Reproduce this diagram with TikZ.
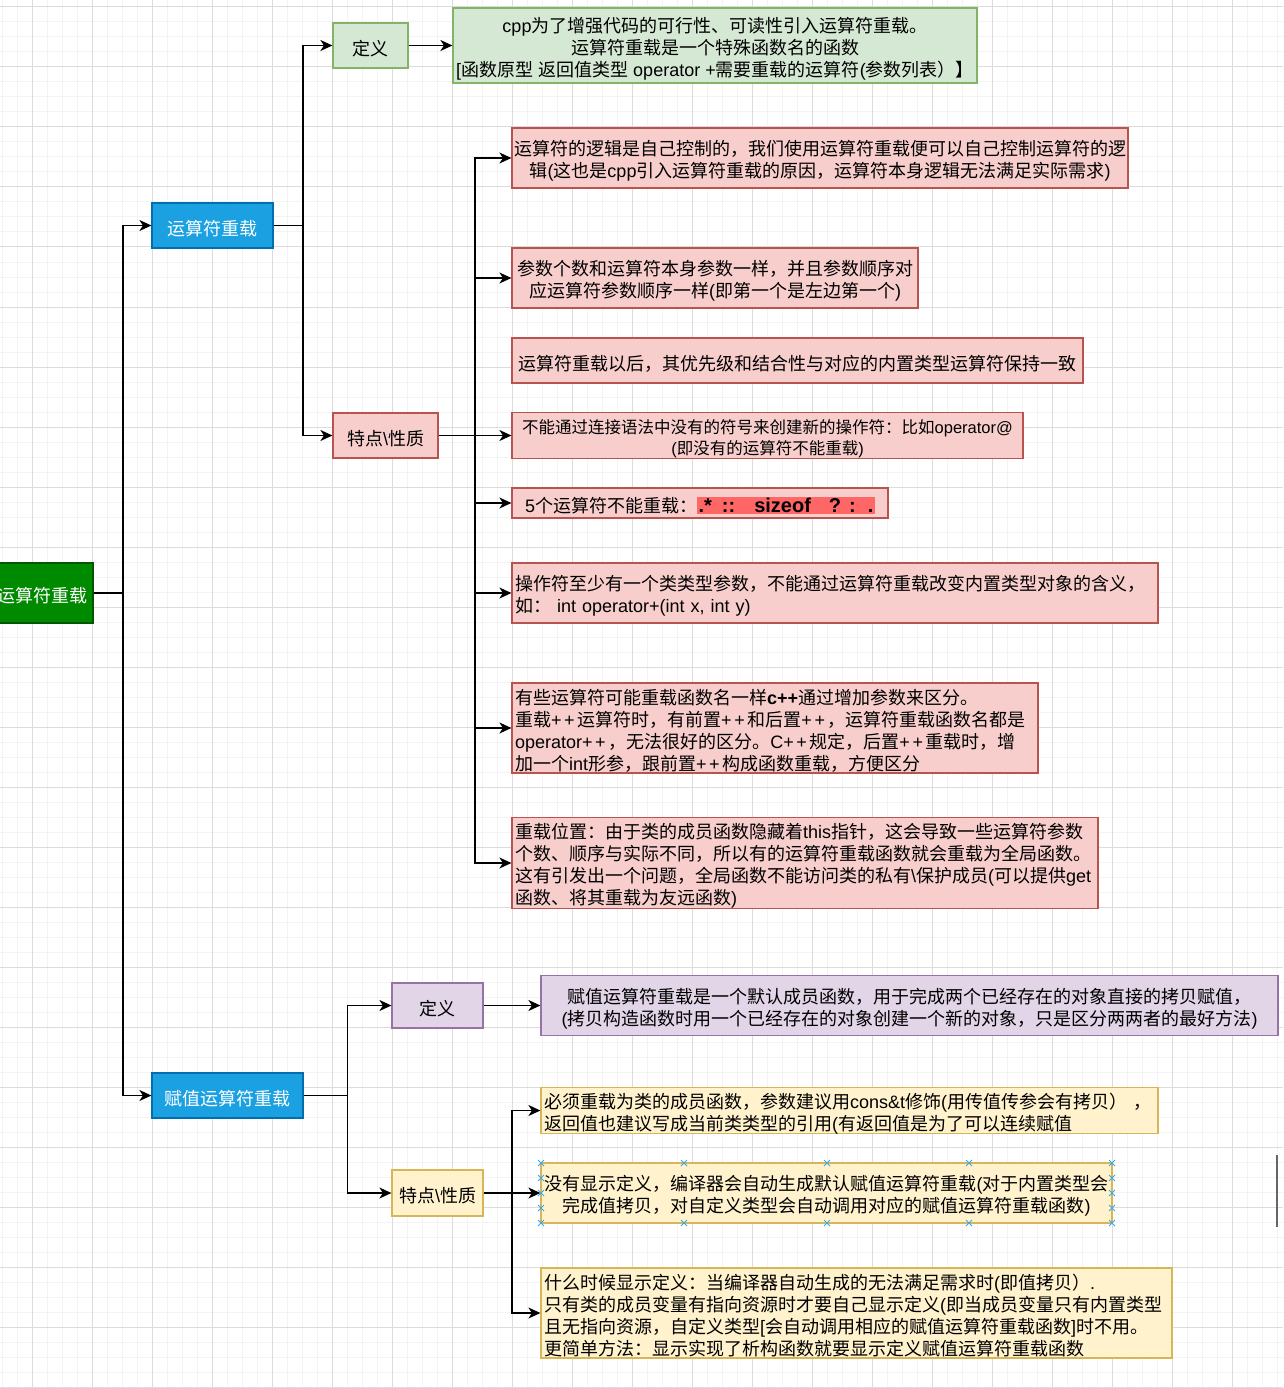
\documentclass[tikz,border=0pt]{standalone}
\usepackage{fontspec}
\usetikzlibrary{arrows.meta}
\setmainfont{Liberation Sans}
\newfontfamily\cjkfont{Noto Sans CJK SC}
\newfontfamily\latinfont{Liberation Sans}
\XeTeXinterchartokenstate=1
\newXeTeXintercharclass\mycjkclass
\makeatletter
\count@="2E80
\loop
  \XeTeXcharclass\count@=\mycjkclass
  \advance\count@ by 1
\ifnum\count@<"A000 \repeat
\count@="FF00
\loop
  \XeTeXcharclass\count@=\mycjkclass
  \advance\count@ by 1
\ifnum\count@<"FFF0 \repeat
\makeatother
\XeTeXinterchartoks 0 \mycjkclass={\cjkfont}
\XeTeXinterchartoks 4095 \mycjkclass={\cjkfont}
\XeTeXinterchartoks \mycjkclass 0={\latinfont}
\XeTeXinterchartoks \mycjkclass 4095={\latinfont}

\newcommand\topfix{\rule{0pt}{21pt}}
\newcommand\pl{+\kern2.6pt}

\definecolor{gfill}{HTML}{D5E8D4}\definecolor{gdraw}{HTML}{82B366}
\definecolor{pfill}{HTML}{F8CECC}\definecolor{pdraw}{HTML}{B85450}
\definecolor{bfill}{HTML}{1BA1E2}\definecolor{bdraw}{HTML}{006EAF}
\definecolor{rfill}{HTML}{008A00}\definecolor{rdraw}{HTML}{005700}
\definecolor{vfill}{HTML}{E1D5E7}\definecolor{vdraw}{HTML}{9673A6}
\definecolor{yfill}{HTML}{FFF2CC}\definecolor{ydraw}{HTML}{D6B656}
\definecolor{hl}{HTML}{FF6666}
\definecolor{minorg}{HTML}{F3F3F3}\definecolor{majorg}{HTML}{DCDCDC}
\definecolor{selblue}{HTML}{3AA8E8}

\tikzset{
  box/.style={draw, rectangle, line width=1.2pt, inner sep=0pt, text=black,
    font=\fontsize{18}{22}\selectfont, align=center},
  lbox/.style={box, inner xsep=3pt, align=left},
  rootbox/.style={box, fill=rfill, draw=rdraw, text=white},
  bluebox/.style={box, fill=bfill, draw=bdraw, text=white},
  greenbox/.style={box, fill=gfill, draw=gdraw},
  pinkbox/.style={box, fill=pfill, draw=pdraw},
  purplebox/.style={box, fill=vfill, draw=vdraw},
  yellowbox/.style={box, fill=yfill, draw=ydraw},
  plainline/.style={draw=black, line width=1.5pt},
  arr/.style={plainline, -{Stealth[length=12pt,width=11pt,inset=3.5pt]}},
  minorline/.style={draw=minorg, line width=1pt},
  majorline/.style={draw=majorg, line width=1pt},
  selx/.style={draw=selblue, line width=1pt}
}

\begin{document}
\begin{tikzpicture}[x=1pt,y=-1pt]
\useasboundingbox (0,0) rectangle (1283,1388);
\fill[white] (0,0) rectangle (1283,1388);
% grid
\foreach \x in {2,17,...,1282} \draw[minorline] (\x,0) -- (\x,1388);
\foreach \y in {7,22,...,1387} \draw[minorline] (0,\y) -- (1283,\y);
\foreach \x in {32,92,...,1272} \draw[majorline] (\x,0) -- (\x,1388);
\foreach \y in {7,67,...,1387} \draw[majorline] (0,\y) -- (1283,\y);

% nodes
\node[rootbox, minimum height=60pt, text width=133pt, inner xsep=5pt, align=right] (root) at (21.5,593) {\topfix 运算符重载};
\node[bluebox, minimum width=121pt, minimum height=45pt] (b1) at (212.5,225.5) {\topfix 运算符重载};
\node[bluebox, minimum width=151pt, minimum height=45pt] (b2) at (227.5,1095.5) {\topfix 赋值运算符重载};

\node[greenbox, minimum width=75pt, minimum height=45pt] (d1) at (370.5,45.5) {\topfix 定义};
\node[greenbox, minimum width=524pt, minimum height=75pt] (dt1) at (715,45.5)
 {\topfix cpp为了增强代码的可行性、可读性引入运算符重载。\\运算符重载是一个特殊函数名的函数\\{}[函数原型 返回值类型 operator +需要重载的运算符(参数列表）】};

\node[pinkbox, minimum width=105pt, minimum height=45pt] (t1) at (385.5,435.5) {\topfix 特点\textbackslash 性质};

\node[pinkbox, minimum width=616pt, minimum height=60pt] (P1) at (820,158)
 {\topfix 运算符的逻辑是自己控制的，我们使用运算符重载便可以自己控制运算符的逻\\辑(这也是cpp引入运算符重载的原因，运算符本身逻辑无法满足实际需求)};
\node[pinkbox, minimum width=406pt, minimum height=60pt] (P2) at (715,278)
 {\topfix 参数个数和运算符本身参数一样，并且参数顺序对\\应运算符参数顺序一样(即第一个是左边第一个)};
\node[pinkbox, minimum width=571pt, minimum height=45pt] (P3) at (797.5,360.5)
 {\topfix 运算符重载以后，其优先级和结合性与对应的内置类型运算符保持一致};
\node[pinkbox, minimum width=511pt, minimum height=45pt, font=\fontsize{16.5}{21}\selectfont] (P4) at (767.5,435.5)
 {\topfix 不能通过连接语法中没有的符号来创建新的操作符：比如operator@\\(即没有的运算符不能重载)};
\node[pinkbox, minimum width=376pt, minimum height=30pt] (P5) at (700,503)
 {\topfix 5个运算符不能重载：{\setlength{\fboxsep}{1.5pt}\colorbox{hl}{\fontsize{20}{22}\selectfont\bfseries .*\hspace{10pt}::\hspace{19pt}sizeof\hspace{18pt}?\hspace{8pt}:\hspace{12pt}.}}};
\node[pinkbox, lbox, minimum height=60pt, text width=640pt] (P6) at (835,593)
 {\topfix 操作符至少有一个类类型参数，不能通过运算符重载改变内置类型对象的含义，\\如：\ int operator+(int x, int y)};
\node[pinkbox, lbox, minimum height=90pt, text width=520pt] (P7) at (775,728)
 {\topfix 有些运算符可能重载函数名一样{\bfseries c++}通过增加参数来区分。\\重载\pl\pl 运算符时，有前置\pl\pl 和后置\pl\pl ，运算符重载函数名都是\\operator\pl\pl ，无法很好的区分。C\pl\pl 规定，后置\pl\pl 重载时，增\\加一个int形参，跟前置\pl\pl 构成函数重载，方便区分};
\node[pinkbox, lbox, minimum height=90pt, text width=580pt] (P8) at (805,863)
 {\topfix 重载位置：由于类的成员函数隐藏着this指针，这会导致一些运算符参数\\个数、顺序与实际不同，所以有的运算符重载函数就会重载为全局函数。\\这有引发出一个问题，全局函数不能访问类的私有\textbackslash 保护成员(可以提供get\\函数、将其重载为友远函数)};

\node[purplebox, minimum width=91pt, minimum height=45pt] (d2) at (437.5,1005.5) {\topfix 定义};
\node[purplebox, minimum width=737pt, minimum height=60pt] (dt2) at (909.5,1005.5)
 {\topfix 赋值运算符重载是一个默认成员函数，用于完成两个已经存在的对象直接的拷贝赋值，\\(拷贝构造函数时用一个已经存在的对象创建一个新的对象，只是区分两两者的最好方法)};
\node[yellowbox, minimum width=91pt, minimum height=46pt] (t2) at (437.5,1193) {\topfix 特点\textbackslash 性质};

\node[yellowbox, lbox, minimum height=45pt, text width=611pt] (Y1) at (849.5,1110.5)
 {\topfix 必须重载为类的成员函数，参数建议用cons\&t修饰(用传值传参会有拷贝）\ ，\\返回值也建议写成当前类类型的引用(有返回值是为了可以连续赋值};
\node[yellowbox, minimum width=571pt, minimum height=60pt] (Y2) at (826.5,1193)
 {\topfix 没有显示定义，编译器会自动生成默认赋值运算符重载(对于内置类型会\\完成值拷贝，对自定义类型会自动调用对应的赋值运算符重载函数)};
\node[yellowbox, lbox, minimum height=90pt, text width=625pt] (Y3) at (856.5,1313)
 {\topfix 什么时候显示定义：当编译器自动生成的无法满足需求时(即值拷贝）.\\只有类的成员变量有指向资源时才要自己显示定义(即当成员变量只有内置类型\\且无指向资源，自定义类型[会自动调用相应的赋值运算符重载函数]时不用。\\更简单方法：显示实现了析构函数就要显示定义赋值运算符重载函数};

% connectors
\coordinate (j0) at (123,593);
\draw[plainline] (root.east) -- (j0);
\draw[arr] (j0) |- (b1.west);
\draw[arr] (j0) |- (b2.west);

\coordinate (j1) at (303,225.5);
\draw[plainline] (b1.east) -- (j1);
\draw[arr] (j1) |- (d1.west);
\draw[arr] (j1) |- (t1.west);
\draw[arr] (d1.east) -- (dt1.west);

\coordinate (j2) at (475,435.5);
\draw[arr] (t1.east) -- (P4.west);
\foreach \n in {P1,P2,P5,P6,P7,P8} \draw[arr] (j2) |- (\n.west);

\coordinate (j3) at (347.5,1095.5);
\draw[plainline] (b2.east) -- (j3);
\draw[arr] (j3) |- (d2.west);
\draw[arr] (j3) |- (t2.west);
\draw[arr] (d2.east) -- (dt2.west);

\coordinate (j4) at (512,1193);
\draw[arr] (t2.east) -- (Y2.west);
\draw[arr] (j4) |- (Y1.west);
\draw[arr] (j4) |- (Y3.west);

% selection marks on Y2
\foreach \x/\y in {541/1163,684/1163,827/1163,969/1163,1112/1163,
                   541/1223,684/1223,827/1223,969/1223,1112/1223,
                   541/1178,541/1193,541/1208,1112/1178,1112/1193,1112/1208}
  \draw[selx] (\x-3,\y-3) -- (\x+3,\y+3) (\x-3,\y+3) -- (\x+3,\y-3);
\draw[line width=2pt, draw=black!60] (1277,1155) -- (1277,1227);
\end{tikzpicture}
\end{document}
